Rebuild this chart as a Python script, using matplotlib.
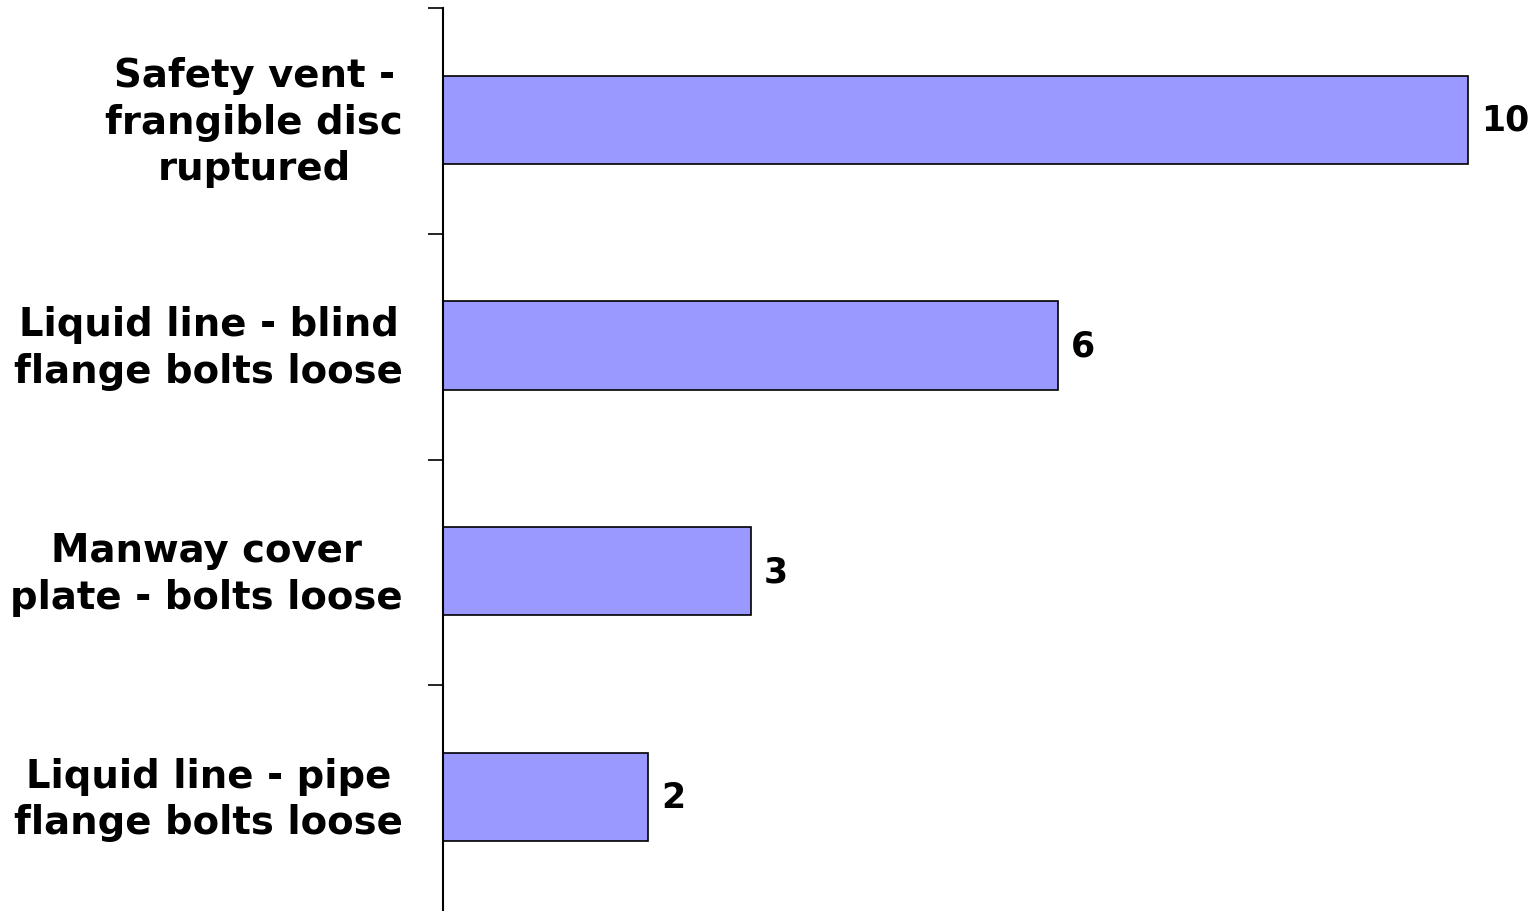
import matplotlib

matplotlib.use("Agg")
import matplotlib.pyplot as plt
import matplotlib.transforms as mtransforms
import numpy as np

categories = [
    "Safety vent -\nfrangible disc\nruptured",
    "Liquid line - blind\nflange bolts loose",
    "Manway cover\nplate - bolts loose",
    "Liquid line - pipe\nflange bolts loose",
]
counts = [10, 6, 3, 2]

BAR = "#9999ff"
W, H = 1535, 911

fig = plt.figure(figsize=(W / 100, H / 100), dpi=100)
ax = fig.add_axes([443 / W, 0.0, (W - 443) / W, 1 - 8 / H])

y = np.arange(len(categories))
ax.barh(y - 0.005, counts, height=0.39, color=BAR, edgecolor="black", linewidth=1.2)
ax.set_ylim(len(categories) - 0.5, -0.5)
ax.set_xlim(0, (W - 443) / 102.5)

for yi, c in zip(y, counts):
    ax.text(c + 0.13, yi, str(c), va="center", ha="left",
            fontsize=25, fontweight="bold", family="DejaVu Sans")

# category labels: drawn as text left of the axis, centred on each bar
lab_tr = ax.get_yaxis_transform() + mtransforms.ScaledTranslation(
    -0.40, -0.02, fig.dpi_scale_trans)
for yi, cat in zip(y, categories):
    ax.text(0, yi, cat, transform=lab_tr, ha="right", va="center",
            multialignment="center", fontsize=27.8, fontweight="bold",
            family="DejaVu Sans", linespacing=1.28)

ax.set_yticks([])
# tick marks between categories (the one at the bottom edge is off-image)
ax.set_yticks(np.arange(-0.5, len(categories) - 0.5, 1), minor=True)
ax.tick_params(axis="y", which="minor", length=11, width=1.2, direction="out")

ax.set_xticks([])
for s in ("top", "right", "bottom"):
    ax.spines[s].set_visible(False)
ax.spines["left"].set_linewidth(1.5)

fig.savefig("out.png", dpi=100)
